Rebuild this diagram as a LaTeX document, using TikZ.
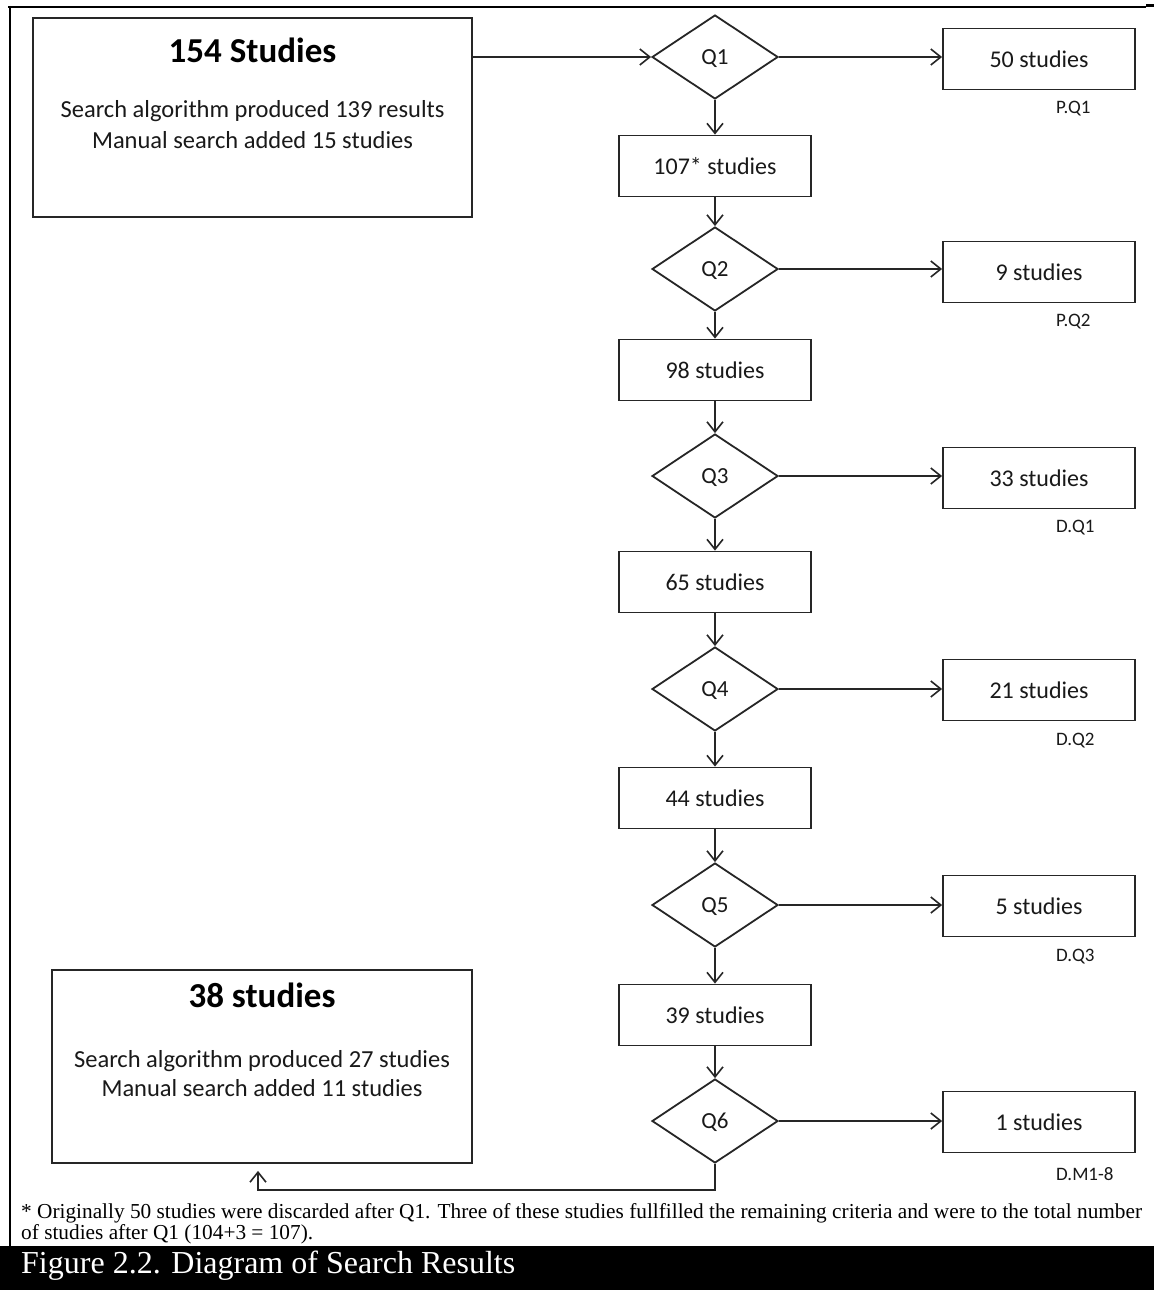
\documentclass[tikz,border=0pt]{standalone}
\usepackage{fontspec}
\setmainfont{Carlito}
\newfontfamily\serifcap{Liberation Serif}
\usetikzlibrary{shapes.geometric,arrows.meta}
\begin{document}
\begin{tikzpicture}[x=1pt,y=-1pt,
  ln/.style={draw=black!85,line width=1.8pt},
  arr/.style={ln,-{Straight Barb[length=10pt,width=16pt,line width=1.6pt]}},
  pbox/.style={draw=black!85,line width=1.8pt,minimum width=192pt,minimum height=61pt,inner sep=0pt,text=black!90,font=\fontsize{24}{28}\selectfont},
  bigbox/.style={draw=black!85,line width=1.8pt,inner sep=0pt},
  qdia/.style={diamond,draw=black!85,line width=1.8pt,minimum width=126pt,minimum height=84pt,inner sep=0pt,text depth=0pt,text=black!90,font=\fontsize{23}{27}\selectfont},
  tag/.style={anchor=west,inner sep=0pt,text=black!90,font=\fontsize{19}{22}\selectfont},
  title/.style={inner sep=0pt,font=\bfseries\fontsize{35}{40}\selectfont},
  body/.style={inner sep=0pt,text=black!90,font=\fontsize{24.5}{28}\selectfont},
  note/.style={anchor=base west,inner sep=0pt,font=\serifcap\fontsize{21.3}{21}\selectfont}
]
\useasboundingbox (0,0) rectangle (1154,1290);
\fill[white] (0,0) rectangle (1154,1290);
% frame
\draw[line width=2pt] (8,7) -- (1146,7);
\draw[line width=3pt] (1146,6) -- (1154,6);
\draw[line width=2.8pt] (10,6) -- (10,1246);
% big boxes
\node[bigbox,minimum width=439pt,minimum height=199pt] (start) at (252.5,117.5) {};
\node[title] (startT) at (252.5,50) {154 Studies};
\node[body] (startL1) at (252.5,111) {Search algorithm produced 139 results};
\node[body] (startL2) at (252.5,140) {Manual search added 15 studies};
\node[bigbox,minimum width=420pt,minimum height=193pt] (final) at (262,1066.5) {};
\node[title] (finalT) at (262,995) {38 studies};
\node[body] (finalL1) at (262,1061) {Search algorithm produced 27 studies};
\node[body] (finalL2) at (262,1088) {Manual search added 11 studies};
% decisions
\node[qdia] (q1) at (715,57) {Q1};
\node[qdia] (q2) at (715,269) {Q2};
\node[qdia] (q3) at (715,476) {Q3};
\node[qdia] (q4) at (715,689) {Q4};
\node[qdia] (q5) at (715,905) {Q5};
\node[qdia] (q6) at (715,1121) {Q6};
% column boxes
\node[pbox] (b1) at (715,166) {107* studies};
\node[pbox] (b2) at (715,370) {98 studies};
\node[pbox] (b3) at (715,582) {65 studies};
\node[pbox] (b4) at (715,798) {44 studies};
\node[pbox] (b5) at (715,1015) {39 studies};
% discarded boxes
\node[pbox] (r1) at (1039,59) {50 studies};
\node[pbox] (r2) at (1039,272) {9 studies};
\node[pbox] (r3) at (1039,478) {33 studies};
\node[pbox] (r4) at (1039,690) {21 studies};
\node[pbox] (r5) at (1039,906) {5 studies};
\node[pbox] (r6) at (1039,1122) {1 studies};
\node[tag] (t1) at (1056,109) {P.Q1};
\node[tag] (t2) at (1056,322) {P.Q2};
\node[tag] (t3) at (1056,528) {D.Q1};
\node[tag] (t4) at (1056,741) {D.Q2};
\node[tag] (t5) at (1056,957) {D.Q3};
\node[tag] (t6) at (1056,1174) {D.M1-8};
% connectors
\draw[arr] (start.east |- q1.west) -- (q1.west);
\foreach \i in {1,...,6} {\draw[arr] (q\i.east) -- (q\i.east -| r\i.west);}
\foreach \i in {1,...,5} {\draw[arr] (q\i.south) -- (b\i.north);}
\foreach \i/\j in {1/2,2/3,3/4,4/5,5/6} {\draw[arr] (b\i.south) -- (q\j.north);}
\coordinate (turnR) at (715,1190);
\coordinate (turnL) at (258,1190);
\draw[arr,shorten >=7pt] (q6.south) -- (turnR) -- (turnL) -- (turnL |- final.south);
% footnote
\node[note] (fn1) at (21,1218) {* Originally 50 studies were discarded after Q1. Three of these studies fullfilled the remaining criteria and were to the total number};
\node[note] (fn2) at (21,1239) {of studies after Q1 (104+3 = 107).};
% caption bar
\fill[black] (0,1246) rectangle (1154,1290);
\node[anchor=base west,inner sep=0pt,text=white,font=\serifcap\fontsize{32}{36}\selectfont] (cap) at (21,1273) {Figure 2.2. Diagram of Search Results};
\end{tikzpicture}
\end{document}
